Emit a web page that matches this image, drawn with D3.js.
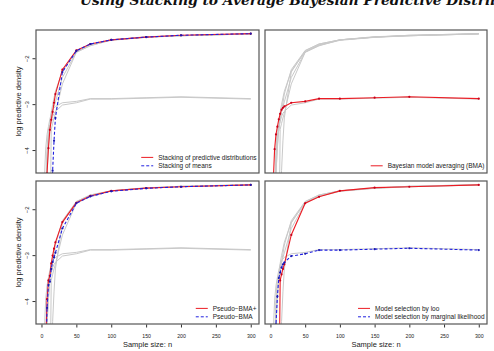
<!DOCTYPE html>
<html>
<head>
<meta charset="utf-8">
<script src="https://cdn.jsdelivr.net/npm/d3@7"></script>
<style>
  html, body { margin: 0; padding: 0; background: #fff; }
  svg { display: block; font-family: "Liberation Sans", Arial, sans-serif; }
</style>
</head>
<body>
<div id="chart"></div>
<script>
// sample sizes shared by every method
const sampleSizes = [4, 6, 8, 10, 12, 14, 16, 18, 20, 30, 50, 70, 100, 150, 200, 300];

// mean log predictive density, one array per averaging method
const stackingDist  = [-7.0, -5.6, -4.5, -3.96, -3.56, -3.34, -3.17, -2.97, -2.78, -2.25, -1.83, -1.69, -1.60, -1.54, -1.50, -1.465];
const stackingMeans = [-9.0, -8.0, -7.0, -6.5, -6.0, -5.5, -4.45, -3.8, -3.3, -2.3, -1.84, -1.69, -1.60, -1.54, -1.50, -1.465];
const bma           = [-4.7, -3.98, -3.66, -3.49, -3.33, -3.21, -3.12, -3.08, -3.05, -2.97, -2.94, -2.88, -2.88, -2.86, -2.84, -2.88];
const pseudoBmaPlus = [-7.0, -5.0, -3.96, -3.55, -3.45, -3.18, -3.01, -2.86, -2.72, -2.28, -1.86, -1.71, -1.60, -1.54, -1.51, -1.47];
const pseudoBma     = [-7.5, -5.5, -4.15, -3.65, -3.58, -3.30, -3.15, -3.05, -2.95, -2.42, -1.87, -1.72, -1.61, -1.545, -1.51, -1.47];
const looSelection  = [-9.0, -8.5, -8.0, -7.5, -6.5, -3.55, -3.42, -3.30, -3.20, -2.56, -1.87, -1.73, -1.60, -1.53, -1.51, -1.47];
const margSelection = [-6.0, -5.0, -4.5, -3.9, -3.5, -3.38, -3.27, -3.20, -3.16, -3.02, -2.97, -2.89, -2.89, -2.87, -2.85, -2.89];

const methodKeys   = ["stackingDist", "stackingMeans", "bma", "pseudoBmaPlus", "pseudoBma", "looSelection", "margSelection"];
const methodValues = [stackingDist, stackingMeans, bma, pseudoBmaPlus, pseudoBma, looSelection, margSelection];
const methodLabels = ["Stacking of predictive distributions", "Stacking of means", "Bayesian model averaging (BMA)",
                      "Pseudo\u2212BMA+", "Pseudo\u2212BMA", "Model selection by loo", "Model selection by marginal likelihood"];

// which methods are coloured in each panel (the rest go grey)
const panelHighlights = [["stackingDist", "stackingMeans"], ["bma"], ["pseudoBmaPlus", "pseudoBma"], ["looSelection", "margSelection"]];

const xTicks = [0, 50, 100, 150, 200, 250, 300];
const yTicks = [-4, -3, -2];

const width = 494, height = 351;
const colX = [[36, 259], [265, 487]];
const rowY = [[30, 173], [181, 324]];

const svg = d3.select("#chart").append("svg")
    .attr("width", width)
    .attr("height", height);

// the title runs off the top and the right of the picture, as in the source
svg.append("text")
    .attr("x", 80)
    .attr("y", 5)
    .style("font-family", "'DejaVu Serif', serif")
    .style("font-weight", "bold")
    .style("font-style", "italic")
    .style("font-size", "13.8px")
    .attr("fill", "#111")
    .text("Using Stacking to Average Bayesian Predictive Distributions");

const series = methodKeys.map((k, i) => ({
    key: k,
    label: methodLabels[i],
    points: sampleSizes.map((n, j) => ({n: n, v: methodValues[i][j]}))
}));

panelHighlights.forEach(function(hl, p) {
    const col = p % 2, row = Math.floor(p / 2);
    const x = d3.scaleLinear().domain([-7.84, 311.84]).range(colX[col]);
    const y = d3.scaleLinear().domain([-4.5, -1.385]).range([rowY[row][1], rowY[row][0]]);

    const g = svg.append("g");
    const clipId = "clip" + p;
    g.append("clipPath").attr("id", clipId)
      .append("rect")
        .attr("x", colX[col][0]).attr("y", rowY[row][0])
        .attr("width", colX[col][1] - colX[col][0])
        .attr("height", rowY[row][1] - rowY[row][0]);

    const line = d3.line().x(d => x(d.n)).y(d => y(d.v));
    const plot = g.append("g").attr("clip-path", "url(#" + clipId + ")");

    // grey reference lines for the other methods
    plot.selectAll("path.grey")
      .data(series.filter(s => hl.indexOf(s.key) < 0))
      .enter().append("path")
        .attr("class", "grey")
        .attr("d", s => line(s.points))
        .attr("fill", "none")
        .attr("stroke", "#c9c9c9")
        .attr("stroke-width", 1);

    const colored = hl.map((k, i) => ({
        s: series.find(s => s.key === k),
        color: i === 0 ? "#ec1c24" : "#2020e0",
        dot: i === 0 ? "#c8001a" : "#1a1ab0",
        dash: i === 0 ? null : "3,2"
    }));

    colored.forEach(function(c) {
        plot.append("path")
            .attr("d", line(c.s.points))
            .attr("fill", "none")
            .attr("stroke", c.color)
            .attr("stroke-width", 1.1)
            .attr("stroke-dasharray", c.dash);
        plot.selectAll(null)
          .data(c.s.points)
          .enter().append("circle")
            .attr("cx", d => x(d.n))
            .attr("cy", d => y(d.v))
            .attr("r", 1.1)
            .attr("fill", c.dot);
    });

    // frame
    g.append("rect")
        .attr("x", colX[col][0]).attr("y", rowY[row][0])
        .attr("width", colX[col][1] - colX[col][0])
        .attr("height", rowY[row][1] - rowY[row][0])
        .attr("fill", "none")
        .attr("stroke", "#555")
        .attr("stroke-width", 1.2);

    // legend, bottom right inside the panel
    const lg = g.append("g").style("font-size", "6.5px");
    const texts = lg.selectAll("text")
      .data(colored)
      .enter().append("text")
        .attr("fill", "#222")
        .attr("y", (d, i) => rowY[row][1] - 5 - (colored.length - 1 - i) * 8.4)
        .text(d => d.s.label);
    let maxW = 0;
    texts.each(function() { maxW = Math.max(maxW, this.getComputedTextLength()); });
    const tx = colX[col][1] - 2.5 - maxW;
    texts.attr("x", tx);
    lg.selectAll("line")
      .data(colored)
      .enter().append("line")
        .attr("x1", tx - 17).attr("x2", tx - 5)
        .attr("y1", (d, i) => rowY[row][1] - 7.2 - (colored.length - 1 - i) * 8.4)
        .attr("y2", (d, i) => rowY[row][1] - 7.2 - (colored.length - 1 - i) * 8.4)
        .attr("stroke", d => d.color)
        .attr("stroke-width", 1)
        .attr("stroke-dasharray", d => d.dash);

    if (col === 0) {
        const ya = svg.append("g")
            .attr("transform", "translate(" + (colX[col][0] - 0.5) + ",0)")
            .call(d3.axisLeft(y).tickValues(yTicks).tickSize(3).tickFormat(d3.format("d")));
        ya.select(".domain").remove();
        ya.selectAll("line").attr("stroke", "#333");
        ya.selectAll(".tick text")
            .attr("x", -7).attr("y", 0).attr("dy", "0")
            .attr("transform", "rotate(-90,-7,0)")
            .attr("text-anchor", "middle")
            .style("font-size", "6px")
            .style("font-family", "'Liberation Sans', Arial, sans-serif")
            .attr("fill", "#222");
        svg.append("text")
            .attr("transform", "translate(21," + ((rowY[row][0] + rowY[row][1]) / 2) + ") rotate(-90)")
            .attr("text-anchor", "middle")
            .style("font-size", "7.5px")
            .attr("fill", "#222")
            .text("log predictive density");
    }

    if (row === 1) {
        const xa = svg.append("g")
            .attr("transform", "translate(0," + (rowY[row][1] + 0.5) + ")")
            .call(d3.axisBottom(x).tickValues(xTicks).tickSize(3));
        xa.select(".domain").remove();
        xa.selectAll("line").attr("stroke", "#333");
        xa.selectAll("text")
            .attr("y", 9.5)
            .style("font-size", "5.2px")
            .style("font-family", "'Liberation Sans', Arial, sans-serif")
            .attr("fill", "#222");
        svg.append("text")
            .attr("x", (colX[col][0] + colX[col][1]) / 2)
            .attr("y", 347)
            .attr("text-anchor", "middle")
            .style("font-size", "7.5px")
            .attr("fill", "#222")
            .text("Sample size: n");
    }
});
</script>
</body>
</html>
